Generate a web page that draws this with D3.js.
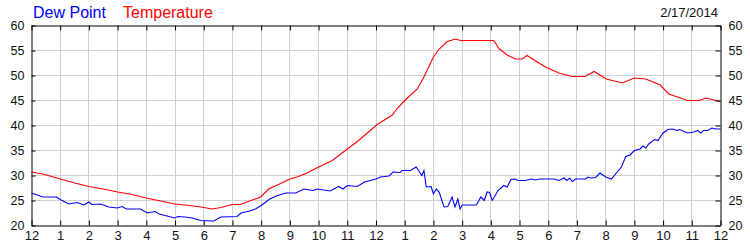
<!DOCTYPE html>
<html>
<head>
<meta charset="utf-8">
<script src="https://cdn.jsdelivr.net/npm/d3@7"></script>
<style>
  body { margin: 0; background: #fff; }
  svg { display: block; font-family: Arial, "Liberation Sans", sans-serif; }
</style>
</head>
<body>
<svg id="chart" width="750" height="250"></svg>
<script>
// Hours since midnight, 2/17/2014
const tempHours = [0, 0.4, 1.0, 1.5, 2.0, 2.5, 3.0, 3.5, 4.0, 4.5, 5.0, 5.5, 5.9, 6.3, 6.6, 7.0, 7.28, 7.6, 7.98, 8.26, 8.6, 9.0, 9.25, 9.6, 10.0, 10.48, 11.0, 11.35, 11.8, 12.04, 12.57, 12.75, 13.0, 13.44, 13.67, 14.0, 14.2, 14.48, 14.77, 14.95, 15.5, 16.1, 16.3, 16.57, 16.86, 17.1, 17.26, 17.62, 17.9, 18.37, 18.84, 19.28, 19.6, 20.02, 20.58, 20.99, 21.4, 21.9, 22.2, 22.5, 22.85, 23.25, 23.5, 24];
const tempValues = [30.7, 30.3, 29.3, 28.5, 27.8, 27.3, 26.7, 26.2, 25.5, 24.9, 24.3, 24.0, 23.7, 23.3, 23.6, 24.2, 24.2, 24.9, 25.7, 27.3, 28.2, 29.3, 29.7, 30.5, 31.7, 33.0, 35.3, 36.8, 39.0, 40.2, 42.1, 43.5, 45.0, 47.3, 49.7, 53.7, 55.3, 56.8, 57.3, 57.0, 57.0, 57.0, 55.3, 54.1, 53.3, 53.3, 54.0, 52.7, 51.7, 50.5, 49.8, 49.8, 50.8, 49.3, 48.5, 49.5, 49.3, 48.1, 46.3, 45.7, 45.0, 45.0, 45.5, 44.8];

const dewHours = [0, 0.4, 0.87, 1.0, 1.3, 1.59, 1.83, 2.0, 2.1, 2.4, 2.69, 2.99, 3.16, 3.3, 3.8, 4.03, 4.3, 4.45, 4.99, 5.1, 5.35, 5.6, 5.89, 6.35, 6.59, 7.16, 7.3, 7.6, 7.8, 8.0, 8.3, 8.57, 8.86, 9.2, 9.49, 9.8, 9.95, 10.4, 10.7, 10.85, 11.0, 11.35, 11.6, 12.0, 12.16, 12.45, 12.6, 12.85, 12.9, 13.2, 13.4, 13.6, 13.67, 13.75, 13.92, 14.0, 14.1, 14.2, 14.37, 14.5, 14.65, 14.75, 14.85, 14.93, 15.0, 15.5, 15.65, 15.77, 15.87, 15.96, 16.05, 16.25, 16.45, 16.57, 16.7, 16.85, 16.95, 17.2, 17.4, 17.55, 17.7, 17.9, 18.2, 18.37, 18.55, 18.65, 18.75, 18.83, 18.95, 19.3, 19.38, 19.5, 19.65, 19.8, 20.0, 20.2, 20.4, 20.55, 20.7, 20.85, 21.0, 21.2, 21.3, 21.4, 21.5, 21.7, 21.82, 22.0, 22.17, 22.33, 22.48, 22.58, 22.85, 23.08, 23.2, 23.32, 23.4, 23.55, 23.7, 23.84, 24];
const dewValues = [26.5, 25.7, 25.7, 25.2, 24.3, 24.6, 24.1, 24.7, 24.2, 24.3, 23.7, 23.5, 23.8, 23.3, 23.3, 22.5, 22.8, 22.3, 21.5, 21.8, 21.7, 21.5, 21.0, 20.9, 21.7, 21.8, 22.5, 22.9, 23.3, 24.0, 25.3, 26.0, 26.5, 26.5, 27.3, 27.0, 27.3, 26.9, 27.8, 27.3, 28.0, 27.8, 28.7, 29.3, 29.7, 29.9, 30.7, 30.6, 31.0, 31.0, 31.7, 30.0, 31.0, 27.7, 27.8, 26.3, 27.3, 26.7, 23.7, 23.8, 25.7, 23.7, 25.3, 23.3, 24.1, 24.1, 25.7, 25.0, 26.7, 26.6, 25.0, 27.0, 28.0, 27.7, 29.2, 29.3, 29.0, 29.0, 29.3, 29.1, 29.3, 29.3, 29.3, 29.0, 29.5, 29.0, 29.5, 28.8, 29.3, 29.3, 29.7, 29.5, 29.6, 30.5, 29.7, 29.3, 30.7, 31.7, 33.8, 34.1, 35.0, 35.3, 35.9, 35.5, 36.3, 37.2, 37.0, 38.5, 39.2, 39.3, 39.0, 39.2, 38.5, 38.7, 39.0, 38.5, 39.0, 39.0, 39.5, 39.3, 39.3];

const xTickLabels = ["12", "1", "2", "3", "4", "5", "6", "7", "8", "9", "10", "11", "12", "1", "2", "3", "4", "5", "6", "7", "8", "9", "10", "11", "12"];
const yTicks = [20, 25, 30, 35, 40, 45, 50, 55, 60];
const dateLabel = "2/17/2014";

const svg = d3.select("#chart");
const plot = {left: 31, right: 720, top: 25, bottom: 225};

const x = d3.scaleLinear().domain([0, 24]).range([plot.left, plot.right]);
const y = d3.scaleLinear().domain([20, 60]).range([plot.bottom, plot.top]);

const g = svg.append("g").attr("transform", "translate(0.5,0.5)");

// Grid
g.append("g").selectAll("line")
    .data(d3.range(1, 24))
    .enter().append("line")
    .attr("x1", d => Math.round(x(d))).attr("x2", d => Math.round(x(d)))
    .attr("y1", plot.top).attr("y2", plot.bottom)
    .attr("stroke", "#d0d0d0");
g.append("g").selectAll("line")
    .data(yTicks.slice(1, -1))
    .enter().append("line")
    .attr("x1", plot.left).attr("x2", plot.right)
    .attr("y1", d => Math.round(y(d))).attr("y2", d => Math.round(y(d)))
    .attr("stroke", "#d0d0d0");

// Lines
const line = (hours) => d3.line().x((d, i) => x(hours[i])).y(d => y(d));
g.append("path").datum(dewValues)
    .attr("d", line(dewHours))
    .attr("fill", "none").attr("stroke", "#0000ff").attr("stroke-width", 1.1);
g.append("path").datum(tempValues)
    .attr("d", line(tempHours))
    .attr("fill", "none").attr("stroke", "#ff0000").attr("stroke-width", 1.1);

// Axes (ticks point inward)
const ax = d3.axisBottom(x).tickValues(d3.range(0, 25)).tickSize(-5).tickFormat((d, i) => xTickLabels[i]).tickSizeOuter(0);
const axB = g.append("g").attr("transform", `translate(0,${plot.bottom})`).call(ax);
axB.selectAll("text").attr("dy", "0.9em").attr("font-size", "13px");
const axT = g.append("g").attr("transform", `translate(0,${plot.top})`)
    .call(d3.axisTop(x).tickValues(d3.range(0, 25)).tickSize(-5).tickFormat("").tickSizeOuter(0));
const axL = g.append("g").attr("transform", `translate(${plot.left},0)`)
    .call(d3.axisLeft(y).tickValues(yTicks).tickSize(-4).tickPadding(7).tickSizeOuter(0));
const axR = g.append("g").attr("transform", `translate(${plot.right},0)`)
    .call(d3.axisRight(y).tickValues(yTicks).tickSize(-5).tickPadding(8).tickSizeOuter(0));

[axB, axT, axL, axR].forEach(a => {
    a.select(".domain").attr("stroke", "#000");
    a.selectAll(".tick line").attr("stroke", "#000");
    a.selectAll("text").attr("fill", "#111").attr("font-family", "Arial, 'Liberation Sans', sans-serif");
});
axL.selectAll("text").attr("font-size", "12.5px");
axR.selectAll("text").attr("font-size", "12.5px");

// Legend and date
svg.append("text").attr("x", 33).attr("y", 18).attr("font-size", "16px").attr("fill", "#0000ff").text("Dew Point");
svg.append("text").attr("x", 123).attr("y", 18).attr("font-size", "16px").attr("fill", "#ff0000").text("Temperature");
svg.append("text").attr("x", 718).attr("y", 17).attr("text-anchor", "end").attr("font-size", "13px").attr("fill", "#111").text(dateLabel);
</script>
</body>
</html>
